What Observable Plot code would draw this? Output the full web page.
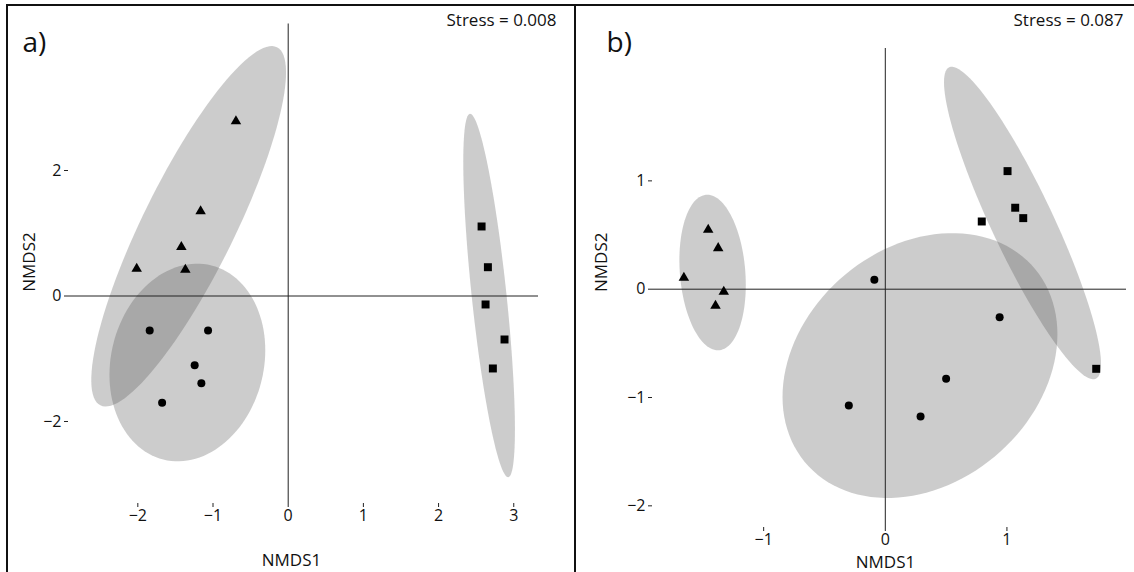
<!DOCTYPE html>
<html>
<head>
<meta charset="utf-8">
<script src="https://cdn.jsdelivr.net/npm/d3@7"></script>
<script src="https://cdn.jsdelivr.net/npm/@observablehq/plot@0.6"></script>
<style>
  html, body { margin: 0; padding: 0; background: #fff; }
  #wrap { position: relative; width: 1134px; height: 572px; overflow: hidden; background: #fff; font-family: "Open Sans", "Noto Sans", sans-serif; }
  .panel { position: absolute; top: 0; }
  .bline { position: absolute; background: #111; }
</style>
</head>
<body>
<div id="wrap">
  <div class="panel" id="pa" style="left:0px"></div>
  <div class="panel" id="pb" style="left:575px"></div>
  <div class="bline" style="left:6px;top:4px;width:1128px;height:2px"></div>
  <div class="bline" style="left:6px;top:4px;width:2px;height:568px"></div>
  <div class="bline" style="left:574px;top:4px;width:2px;height:568px"></div>
</div>
<script>
// ---------- Panel a data ----------
const aTriX  = [-0.695, -1.165, -1.421, -2.015, -1.368];
const aTriY  = [ 2.786,  1.351,  0.781,  0.433,  0.418];
const aCircX = [-1.842, -1.066, -1.244, -1.155, -1.677];
const aCircY = [-0.550, -0.550, -1.103, -1.390, -1.702];
const aSqX   = [ 2.572,  2.656,  2.625,  2.877,  2.722];
const aSqY   = [ 1.108,  0.459, -0.135, -0.693, -1.155];
// ellipse: [centerX, centerY, axis1X, axis1Y, axis2X, axis2Y]
const aEllipses = [
  [-1.324,  1.111,  1.174, 2.854,  0.547, -0.325],
  [-1.341, -1.060,  1.036, 0.196,  0.000, -1.563],
  [ 2.672,  0.008, -0.255, 2.896,  0.230,  0.029]
];
const aXTicks = [-2, -1, 0, 1, 2, 3];
const aYTicks = [-2, 0, 2];
const aTag = "a)";
const aStress = "Stress = 0.008";

// ---------- Panel b data ----------
const bTriX  = [-1.456, -1.374, -1.656, -1.328, -1.396];
const bTriY  = [ 0.548,  0.379,  0.105, -0.024, -0.153];
const bCircX = [-0.090, -0.300,  0.290,  0.500,  0.940];
const bCircY = [ 0.087, -1.074, -1.175, -0.827, -0.259];
const bSqX   = [ 1.005,  1.068,  1.134,  0.793,  1.734];
const bSqY   = [ 1.090,  0.752,  0.656,  0.625, -0.735];
const bEllipses = [
  [-1.420,  0.154,  0.273, -0.114,  0.000, -0.709],
  [ 0.285, -0.705,  1.130,  0.289,  0.000, -1.188],
  [ 1.128,  0.611, -0.603,  1.437,  0.230,  0.122]
];
const bXTicks = [-1, 0, 1];
const bYTicks = [-2, -1, 0, 1];
const bTag = "b)";
const bStress = "Stress = 0.087";

const xLabel = "NMDS1";
const yLabel = "NMDS2";

function pts(xs, ys) { return xs.map((x, i) => ({x, y: ys[i]})); }
function ellipsePoints(list) {
  const out = [];
  list.forEach((e, k) => {
    const [cx, cy, ux, uy, vx, vy] = e;
    for (let i = 0; i <= 120; i++) {
      const t = (i / 120) * 2 * Math.PI;
      out.push({k, x: cx + ux * Math.cos(t) + vx * Math.sin(t), y: cy + uy * Math.cos(t) + vy * Math.sin(t)});
    }
  });
  return out;
}

const fmt = d3.format("d");

function panel(cfg) {
  return Plot.plot({
    width: cfg.width,
    height: 572,
    marginLeft: cfg.ml, marginRight: cfg.mr, marginTop: cfg.mt, marginBottom: cfg.mb,
    style: {fontFamily: "'Open Sans', 'Noto Sans', sans-serif", fontSize: "16px", color: "#111", background: "transparent", overflow: "visible"},
    x: {domain: cfg.xDomain, type: "linear"},
    y: {domain: cfg.yDomain, type: "linear"},
    marks: [
      Plot.line(ellipsePoints(cfg.ellipses), {x: "x", y: "y", z: "k", fill: "#505050", fillOpacity: 0.29, stroke: "none", curve: "linear-closed"}),
      Plot.ruleY([0], {stroke: "#222", strokeWidth: 1}),
      Plot.ruleX([0], {stroke: "#222", strokeWidth: 1}),
      Plot.dot(pts(cfg.triX, cfg.triY), {x: "x", y: "y", symbol: "triangle", fill: "black", r: 3.9}),
      Plot.dot(pts(cfg.circX, cfg.circY), {x: "x", y: "y", symbol: "circle", fill: "black", r: 4}),
      Plot.dot(pts(cfg.sqX, cfg.sqY), {x: "x", y: "y", symbol: "square", fill: "black", r: 4.5}),
      Plot.axisX({ticks: cfg.xTicks, tickFormat: fmt, tickSize: 4, tickPadding: 2, label: null, stroke: "#222", fill: "#111"}),
      Plot.axisY({ticks: cfg.yTicks, tickFormat: fmt, tickSize: 4, tickPadding: 3, label: null, stroke: "#222", fill: "#111"}),
      Plot.text([cfg.tag], {frameAnchor: "top-left", dx: cfg.tagDx, dy: cfg.tagDy, textAnchor: "start", lineAnchor: "middle", fontSize: 28, fill: "#111"}),
      Plot.text([cfg.stress], {frameAnchor: "top-right", dx: cfg.stDx, dy: cfg.stDy, textAnchor: "end", lineAnchor: "middle", fontSize: 17, fill: "#111"}),
      Plot.text([xLabel], {frameAnchor: "bottom", dx: cfg.xlDx, dy: cfg.xlDy, lineAnchor: "middle", fontSize: 17, fill: "#111"}),
      Plot.text([yLabel], {frameAnchor: "left", dx: cfg.ylDx, dy: cfg.ylDy, rotate: -90, lineAnchor: "middle", fontSize: 17, fill: "#111"})
    ]
  });
}

document.getElementById("pa").appendChild(panel({
  width: 575, ml: 68, mr: 37, mt: 23.5, mb: 69,
  xDomain: [-2.922, 3.329], yDomain: [-3.307, 4.335],
  triX: aTriX, triY: aTriY, circX: aCircX, circY: aCircY, sqX: aSqX, sqY: aSqY,
  ellipses: aEllipses, xTicks: aXTicks, yTicks: aYTicks, tag: aTag, stress: aStress,
  tagDx: -46, tagDy: 19, stDx: 18, stDy: -3.5, xlDx: -12, xlDy: 57, ylDx: -39, ylDy: 28
}));

document.getElementById("pb").appendChild(panel({
  width: 559, ml: 77, mr: 8, mt: 48, mb: 45,
  xDomain: [-1.914, 1.983], yDomain: [-2.200, 2.222],
  triX: bTriX, triY: bTriY, circX: bCircX, circY: bCircY, sqX: bSqX, sqY: bSqY,
  ellipses: bEllipses, xTicks: bXTicks, yTicks: bYTicks, tag: bTag, stress: bStress,
  tagDx: -46, tagDy: -5, stDx: -3, stDy: -28, xlDx: -4, xlDy: 35, ylDx: -51, ylDy: 4
}));
</script>
</body>
</html>
